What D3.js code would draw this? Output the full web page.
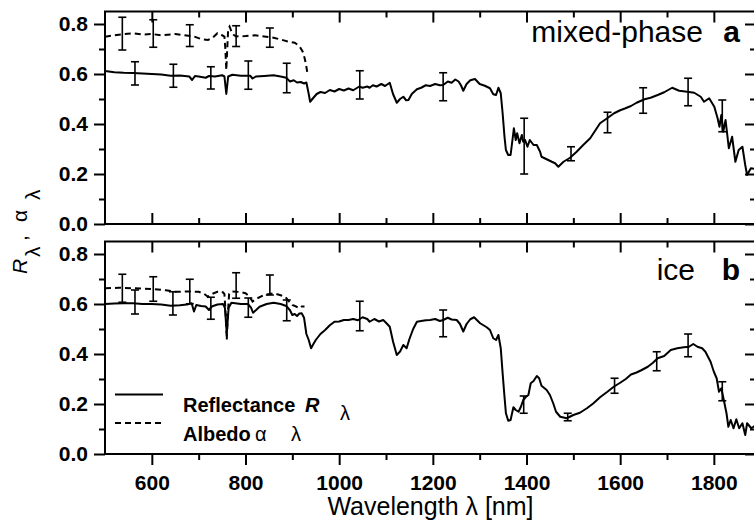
<!DOCTYPE html>
<html><head><meta charset="utf-8">
<script src="https://cdn.jsdelivr.net/npm/d3@7"></script>
<style>body{margin:0;background:#fff}svg{display:block}</style>
</head><body>
<svg id="chart" width="754" height="527"></svg>
<script>
// ---------- data (wavelength nm, value) ----------
const reflectanceA = [[500,.612],[520,.607],[540,.605],[560,.604],[580,.602],[600,.600],[620,.598],[640,.593],[660,.594],[680,.590],[686,.576],[692,.592],[700,.590],[715,.585],[722,.592],[735,.590],[750,.595],[755,.590],[759,.520],[763,.590],[772,.597],[790,.593],[810,.593],[815,.582],[822,.590],[840,.592],[860,.595],[875,.590],[887,.585],[895,.570],[903,.575],[910,.566],[918,.568],[925,.562],[930,.566],[935,.520],[938,.489],[945,.505],[952,.520],[960,.528],[970,.524],[980,.536],[990,.530],[1000,.540],[1010,.534],[1020,.542],[1030,.535],[1043,.550],[1050,.545],[1060,.550],[1065,.545],[1072,.555],[1080,.550],[1090,.560],[1098,.552],[1108,.565],[1115,.520],[1123,.485],[1130,.500],[1137,.509],[1143,.495],[1148,.496],[1155,.520],[1166,.539],[1175,.545],[1185,.555],[1194,.552],[1205,.560],[1215,.555],[1222,.556],[1232,.570],[1240,.565],[1248,.578],[1255,.570],[1260,.555],[1265,.533],[1272,.560],[1280,.575],[1290,.580],[1300,.560],[1311,.553],[1322,.543],[1329,.519],[1335,.516],[1340,.545],[1345,.523],[1349,.443],[1353,.349],[1356,.296],[1361,.276],[1366,.276],[1370,.336],[1373,.383],[1377,.336],[1380,.363],[1385,.323],[1390,.356],[1393,.329],[1397,.336],[1402,.309],[1407,.336],[1415,.316],[1422,.316],[1429,.289],[1432,.269],[1443,.259],[1454,.249],[1461,.243],[1468,.229],[1479,.249],[1493,.265],[1507,.289],[1521,.316],[1536,.343],[1557,.403],[1570,.420],[1587,.443],[1600,.455],[1610,.462],[1623,.472],[1635,.485],[1652,.499],[1665,.505],[1680,.516],[1694,.527],[1711,.545],[1726,.533],[1743,.529],[1758,.525],[1772,.509],[1779,.489],[1790,.503],[1801,.469],[1808,.423],[1812,.389],[1816,.436],[1820,.369],[1825,.416],[1832,.303],[1839,.349],[1846,.249],[1853,.296],[1861,.309],[1867,.236],[1871,.196],[1879,.223],[1890,.220]];
const albedoA = [[500,.749],[520,.755],[540,.760],[560,.763],[580,.758],[600,.760],[620,.755],[650,.760],[670,.755],[690,.750],[705,.740],[720,.736],[730,.745],[740,.763],[750,.755],[755,.750],[757,.700],[759,.616],[761,.700],[763,.780],[766,.790],[772,.760],[780,.750],[800,.752],[820,.755],[840,.750],[860,.745],[875,.738],[890,.730],[905,.725],[915,.712],[922,.690],[926,.665],[929,.640],[932,.605]];
const reflectanceB = [[500,.600],[520,.602],[540,.603],[560,.603],[580,.600],[600,.600],[620,.598],[640,.593],[660,.595],[675,.598],[685,.603],[690,.570],[695,.596],[705,.592],[715,.590],[722,.576],[728,.590],[740,.598],[752,.600],[756,.585],[760,.483],[764,.585],[770,.605],[790,.600],[805,.600],[812,.585],[816,.565],[822,.575],[830,.589],[845,.600],[860,.605],[875,.600],[887,.592],[895,.575],[900,.556],[905,.560],[910,.552],[915,.562],[920,.563],[925,.545],[930,.480],[935,.456],[940,.423],[945,.440],[950,.456],[960,.480],[970,.496],[980,.515],[990,.529],[1000,.530],[1010,.536],[1020,.536],[1030,.540],[1040,.535],[1050,.547],[1060,.540],[1065,.529],[1075,.540],[1085,.530],[1094,.536],[1100,.525],[1108,.509],[1115,.450],[1123,.396],[1130,.410],[1137,.436],[1144,.423],[1150,.460],[1158,.500],[1166,.529],[1175,.532],[1185,.535],[1194,.536],[1205,.540],[1215,.532],[1222,.536],[1232,.545],[1240,.538],[1251,.536],[1258,.520],[1265,.490],[1272,.520],[1280,.539],[1288,.547],[1301,.523],[1315,.507],[1322,.496],[1329,.463],[1335,.456],[1340,.476],[1345,.423],[1349,.323],[1353,.229],[1356,.163],[1361,.133],[1366,.136],[1372,.187],[1377,.176],[1383,.169],[1388,.189],[1393,.216],[1399,.229],[1404,.236],[1409,.283],[1415,.292],[1422,.312],[1427,.303],[1432,.273],[1443,.256],[1450,.236],[1457,.203],[1463,.169],[1472,.149],[1486,.143],[1500,.156],[1514,.165],[1529,.183],[1543,.203],[1557,.227],[1572,.248],[1587,.270],[1600,.285],[1612,.300],[1623,.318],[1635,.326],[1645,.335],[1659,.349],[1670,.365],[1680,.383],[1694,.392],[1708,.416],[1722,.423],[1736,.427],[1747,.429],[1756,.440],[1765,.429],[1775,.423],[1782,.409],[1793,.369],[1800,.329],[1806,.303],[1811,.249],[1816,.263],[1822,.209],[1827,.163],[1831,.109],[1836,.136],[1842,.103],[1848,.139],[1854,.103],[1861,.123],[1867,.076],[1871,.123],[1880,.103],[1890,.116]];
const albedoB = [[500,.663],[530,.665],[560,.663],[600,.660],[630,.655],[650,.649],[680,.650],[700,.649],[712,.640],[720,.629],[728,.640],[740,.649],[750,.650],[755,.640],[758,.550],[760,.456],[762,.550],[765,.640],[770,.650],[790,.648],[800,.643],[808,.630],[815,.610],[822,.620],[840,.636],[860,.643],[875,.635],[885,.629],[893,.610],[900,.596],[908,.590],[915,.583],[920,.590],[926,.590]];
// error bars: [wavelength, low, high]
const reflErrA = [[564,.556,.649],[646,.547,.639],[726,.540,.629],[806,.539,.652],[888,.525,.643],[1044,.500,.613],[1222,.493,.605],[1395,.200,.423],[1495,.253,.309],[1573,.365,.447],[1649,.443,.545],[1745,.473,.583],[1818,.369,.496]];
const albErrA = [[537,.696,.827],[603,.707,.817],[681,.710,.797],[780,.710,.793],[852,.707,.784]];
const reflErrB = [[564,.560,.656],[645,.556,.649],[726,.539,.627],[806,.547,.624],[888,.533,.616],[1044,.493,.611],[1222,.469,.576],[1394,.163,.232],[1488,.133,.163],[1588,.243,.303],[1678,.333,.409],[1745,.389,.480],[1818,.213,.289]];
const albErrB = [[537,.607,.719],[603,.611,.709],[681,.601,.699],[780,.623,.725],[852,.636,.716]];
// ticks & labels
const xMajorTicks = [600,800,1000,1200,1400,1600,1800];
const xMinorTicks = [700,900,1100,1300,1500,1700];
const yMajorTicks = [0,0.2,0.4,0.6,0.8];
const yMinorTicks = [0.1,0.3,0.5,0.7];
const panelNames = ["mixed-phase","ice"];
const panelTags = ["a","b"];

// ---------- drawing ----------
const FONT = "'Liberation Sans', Arial, Helvetica, sans-serif";
const svg = d3.select("#chart").style("font-family", FONT);
const x = d3.scaleLinear().domain([500,1890]).range([105,756]);
const X0 = 105, X1 = 756;

const panels = [
  {y: d3.scaleLinear().domain([0,0.85]).range([224,11.5]), refl: reflectanceA, alb: albedoA, rErr: reflErrA, aErr: albErrA, nameBase: 42, nameEnd: 703, bottomOut: false},
  {y: d3.scaleLinear().domain([0,0.85]).range([454,241.5]), refl: reflectanceB, alb: albedoB, rErr: reflErrB, aErr: albErrB, nameBase: 279.5, nameEnd: 695, bottomOut: true}
];

svg.append("defs").append("clipPath").attr("id","clipAll")
  .append("rect").attr("x",X0).attr("y",0).attr("width",X1-X0).attr("height",527);

function styleAxis(g, labels){
  g.select(".domain").remove();
  g.selectAll(".tick line").attr("stroke","#000").attr("stroke-width",2);
  if(labels){
    g.selectAll(".tick text").attr("fill","#000").style("font-family",FONT)
      .style("font-size","21px").style("font-weight","bold");
  } else {
    g.selectAll(".tick text").remove();
  }
}

panels.forEach((p, i) => {
  const y = p.y;
  const top = y.range()[1], bot = y.range()[0];
  const g = svg.append("g");

  // left axis (outward)
  g.append("g").attr("transform",`translate(${X0},0)`)
    .call(d3.axisLeft(y).tickValues(yMajorTicks).tickFormat(d3.format(".1f")).tickSize(11).tickPadding(6))
    .call(a => styleAxis(a, true));
  g.append("g").attr("transform",`translate(${X0},0)`)
    .call(d3.axisLeft(y).tickValues(yMinorTicks).tickSize(6))
    .call(a => styleAxis(a, false));
  // right axis (inward)
  g.append("g").attr("transform",`translate(${X1},0)`)
    .call(d3.axisLeft(y).tickValues(yMajorTicks).tickSize(11))
    .call(a => styleAxis(a, false));
  g.append("g").attr("transform",`translate(${X1},0)`)
    .call(d3.axisLeft(y).tickValues(yMinorTicks).tickSize(6))
    .call(a => styleAxis(a, false));
  // top axis (inward)
  g.append("g").attr("transform",`translate(0,${top})`)
    .call(d3.axisBottom(x).tickValues(xMajorTicks).tickSize(11))
    .call(a => styleAxis(a, false));
  g.append("g").attr("transform",`translate(0,${top})`)
    .call(d3.axisBottom(x).tickValues(xMinorTicks).tickSize(6))
    .call(a => styleAxis(a, false));
  // bottom axis
  if(p.bottomOut){
    g.append("g").attr("transform",`translate(0,${bot})`)
      .call(d3.axisBottom(x).tickValues(xMajorTicks).tickFormat(d3.format("d")).tickSize(11).tickPadding(10))
      .call(a => styleAxis(a, true));
    g.append("g").attr("transform",`translate(0,${bot})`)
      .call(d3.axisBottom(x).tickValues(xMinorTicks).tickSize(6))
      .call(a => styleAxis(a, false));
  } else {
    g.append("g").attr("transform",`translate(0,${bot})`)
      .call(d3.axisTop(x).tickValues(xMajorTicks).tickSize(11))
      .call(a => styleAxis(a, false));
    g.append("g").attr("transform",`translate(0,${bot})`)
      .call(d3.axisTop(x).tickValues(xMinorTicks).tickSize(6))
      .call(a => styleAxis(a, false));
  }

  // frame
  g.append("rect").attr("x",X0).attr("y",top).attr("width",X1-X0).attr("height",bot-top)
    .attr("fill","none").attr("stroke","#000").attr("stroke-width",2);

  const line = d3.line().x(d => x(d[0])).y(d => y(d[1]));
  const plot = g.append("g").attr("clip-path","url(#clipAll)");
  plot.append("path").datum(p.alb).attr("d", line)
    .attr("fill","none").attr("stroke","#000").attr("stroke-width",2).attr("stroke-dasharray","6,4");
  plot.append("path").datum(p.refl).attr("d", line)
    .attr("fill","none").attr("stroke","#000").attr("stroke-width",2).attr("stroke-linejoin","round");

  // error bars
  const errs = p.rErr.concat(p.aErr);
  const eb = plot.selectAll(null).data(errs).enter().append("g");
  eb.append("line").attr("x1",d=>x(d[0])).attr("x2",d=>x(d[0]))
    .attr("y1",d=>y(d[1])).attr("y2",d=>y(d[2])).attr("stroke","#000").attr("stroke-width",1.6);
  eb.append("line").attr("x1",d=>x(d[0])-4).attr("x2",d=>x(d[0])+4)
    .attr("y1",d=>y(d[1])).attr("y2",d=>y(d[1])).attr("stroke","#000").attr("stroke-width",1.6);
  eb.append("line").attr("x1",d=>x(d[0])-4).attr("x2",d=>x(d[0])+4)
    .attr("y1",d=>y(d[2])).attr("y2",d=>y(d[2])).attr("stroke","#000").attr("stroke-width",1.6);

  // panel labels
  g.append("text").attr("x",p.nameEnd).attr("y",p.nameBase).attr("text-anchor","end")
    .style("font-size","30px").text(panelNames[i]);
  g.append("text").attr("x",740).attr("y",p.nameBase).attr("text-anchor","end")
    .style("font-size","30px").style("font-weight","bold").text(panelTags[i]);
});

// legend (panel b)
const lg = svg.append("g");
lg.append("line").attr("x1",115).attr("x2",163).attr("y1",394.5).attr("y2",394.5)
  .attr("stroke","#000").attr("stroke-width",2);
lg.append("line").attr("x1",115).attr("x2",163).attr("y1",423).attr("y2",423)
  .attr("stroke","#000").attr("stroke-width",2).attr("stroke-dasharray","6,4");
const t1 = lg.append("text").attr("y",411.5).style("font-size","20px").style("font-weight","bold");
t1.append("tspan").attr("x",183).text("Reflectance");
t1.append("tspan").attr("x",305).style("font-style","italic").text("R");
t1.append("tspan").attr("x",340).attr("dy",8).style("font-weight","normal").style("font-size","20px").text("λ");
const t2 = lg.append("text").attr("y",441).style("font-size","20px").style("font-weight","bold");
t2.append("tspan").attr("x",183).text("Albedo");
t2.append("tspan").attr("x",255).style("font-weight","normal").text("α");
t2.append("tspan").attr("x",291).style("font-weight","normal").style("font-size","20px").text("λ");

// axis titles
svg.append("text").attr("x",(X0+X1)/2).attr("y",515).attr("text-anchor","middle")
  .style("font-size","25px").text("Wavelength λ [nm]");
const yl = svg.append("text").attr("transform","translate(27,274) rotate(-90)").style("font-size","21px");
yl.append("tspan").attr("x",0).style("font-style","italic").text("R");
yl.append("tspan").attr("x",17).attr("dy",13).text("λ");
yl.append("tspan").attr("x",33).attr("dy",-13).text(",");
yl.append("tspan").attr("x",52).text("α");
yl.append("tspan").attr("x",74).attr("dy",13).text("λ");
</script>
</body></html>
